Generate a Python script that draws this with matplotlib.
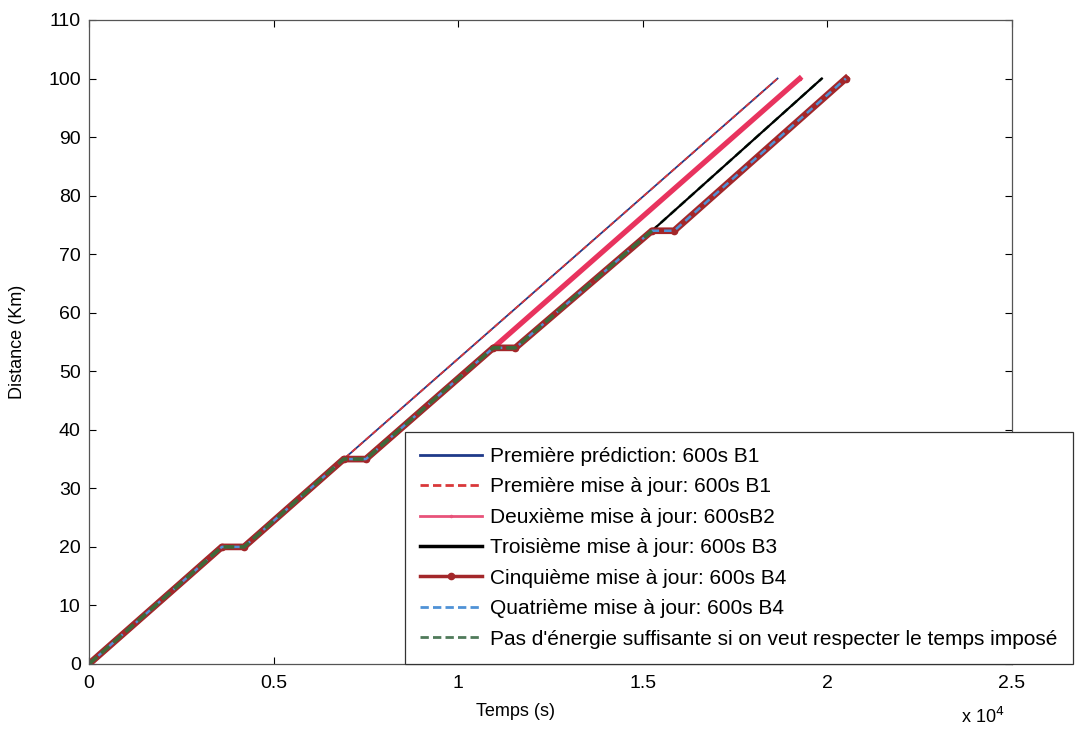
import matplotlib.pyplot as plt

plt.rcParams['font.family'] = ['Liberation Sans', 'DejaVu Sans']

# trajets (temps en s, distance en km)
t_pred = [0, 3600, 4200, 6900, 18650]
d_pred = [0, 20, 20, 35, 100]

t_maj2 = [0, 3600, 4200, 6900, 7500, 10950, 19250]
d_maj2 = [0, 20, 20, 35, 35, 54, 100]

t_maj3 = [0, 3600, 4200, 6900, 7500, 10950, 11550, 15250, 19850]
d_maj3 = [0, 20, 20, 35, 35, 54, 54, 74, 100]

t_maj45 = [0, 3600, 4200, 6900, 7500, 10950, 11550, 15250, 15850, 20500]
d_maj45 = [0, 20, 20, 35, 35, 54, 54, 74, 74, 100]

labels = ["Première prédiction: 600s B1",
          "Première mise à jour: 600s B1",
          "Deuxième mise à jour: 600sB2",
          "Troisième mise à jour: 600s B3",
          "Cinquième mise à jour: 600s B4",
          "Quatrième mise à jour: 600s B4",
          "Pas d'énergie suffisante si on veut respecter le temps imposé"]

fig = plt.figure(figsize=(10.76, 7.32), dpi=100)
ax = fig.add_axes([0.0827, 0.0929, 0.8578, 0.8798])

ax.plot(t_pred, d_pred, color='#1f3a8a', lw=1.3)
ax.plot(t_pred, d_pred, color='#d9383a', lw=1.3, ls='--', dashes=(3, 2))
ax.plot(t_maj2, d_maj2, color='#e8335e', lw=3.8, marker='.', markersize=3)
ax.plot(t_maj3, d_maj3, color='#2f6b45', lw=1.8, ls='--', dashes=(3, 2))
ax.plot(t_maj3, d_maj3, color='black', lw=1.6)
ax.plot(t_maj45, d_maj45, color='#a3272a', lw=4.8, marker='o', markersize=4.5)
ax.plot(t_maj45, d_maj45, color='#4f92d6', lw=1.8, ls='--', dashes=(3, 2))
ax.plot(t_maj3[:-1], d_maj3[:-1], color='#3d6a3a', lw=2.6, ls='--', dashes=(3, 1.5))

# poignées de la légende (traits fins comme dans la figure d'origine)
styles = [dict(color='#1f3a8a', lw=2),
          dict(color='#d9383a', lw=2, ls='--', dashes=(3, 1.5)),
          dict(color='#e8537a', lw=2, marker='.', markersize=3),
          dict(color='black', lw=2.5),
          dict(color='#a3272a', lw=2.5, marker='o', markersize=4.5),
          dict(color='#4f92d6', lw=2, ls='--', dashes=(3, 1.5)),
          dict(color='#4f7a5a', lw=2, ls='--', dashes=(3, 1.5))]
handles = [plt.Line2D([], [], **s) for s in styles]

ax.set_xlim(0, 25000)
ax.set_ylim(0, 110)
ax.set_xticks([0, 5000, 10000, 15000, 20000, 25000])
ax.set_xticklabels(['0', '0.5', '1', '1.5', '2', '2.5'])
ax.set_yticks(range(0, 111, 10))
ax.tick_params(direction='in', top=True, right=True, labelsize=14, length=5, width=0.8)
ax.tick_params(axis='x', pad=8)
ax.tick_params(axis='y', pad=6)
for s in ax.spines.values():
    s.set_color('#555555')
    s.set_linewidth(0.9)

ax.set_xlabel('Temps (s)', fontsize=13)
ax.xaxis.set_label_coords(0.4616, -0.06)
ax.set_ylabel('Distance (Km)', fontsize=13)
ax.yaxis.set_label_coords(-0.068, 0.5)
fig.text(0.893, 0.012, r'x 10$^4$', fontsize=13)

leg = fig.legend(handles, labels, loc='upper left',
                 bbox_to_anchor=(0.376, 0.41), bbox_transform=fig.transFigure,
                 fontsize=15, fancybox=False, edgecolor='#333333', framealpha=1,
                 handlelength=3.0, labelspacing=0.55, borderpad=0.72,
                 handletextpad=0.4, borderaxespad=0)
leg.get_frame().set_linewidth(0.9)

fig.savefig('out.png', dpi=100)
